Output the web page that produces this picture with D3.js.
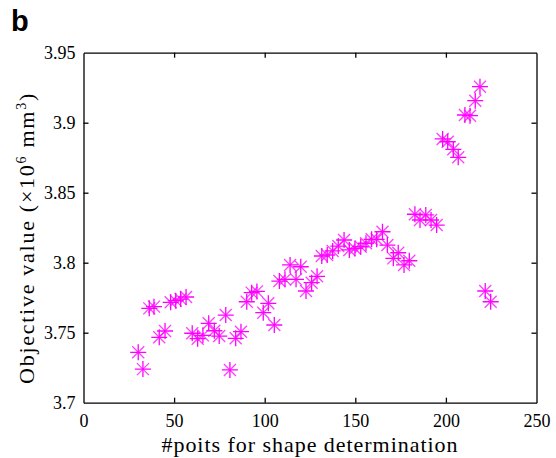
<!DOCTYPE html>
<html>
<head>
<meta charset="utf-8">
<script src="https://cdn.jsdelivr.net/npm/d3@7.9.0/dist/d3.min.js"></script>
<style>
  body { margin: 0; background: #fff; }
  svg text.serif { font-family: "Liberation Serif", "DejaVu Serif", "Times New Roman", serif; }
</style>
</head>
<body>
<svg id="chart" width="556" height="458"></svg>
<script>
// number of points used for shape determination
const pointCounts = [
  30.2, 32.8, 36.3, 38.9, 41.8, 45.0, 48.1, 50.9, 53.6, 56.6,
  60.0, 63.0, 65.9, 69.1, 72.2, 74.9, 78.5, 80.8, 84.0, 86.9,
  90.1, 92.8, 95.7, 99.2, 102.0, 105.3, 108.1, 111.2, 114.0, 117.3,
  119.9, 122.8, 125.9, 128.9, 131.5, 134.5, 137.5, 140.6, 143.8, 146.7,
  149.8, 153.0, 155.9, 159.0, 161.8, 165.0, 167.7, 171.0, 173.7, 176.9,
  179.8, 182.9, 185.7, 188.9, 191.8, 194.9, 198.2, 201.0, 204.1, 206.8,
  210.5, 213.3, 216.2, 218.8, 221.7, 224.7
];
// objective value (x10^6 mm^3)
const objectiveValues = [
  3.736, 3.724, 3.7674, 3.7686, 3.7467, 3.7512, 3.7717, 3.7729, 3.774, 3.7755,
  3.7496, 3.7457, 3.7481, 3.7567, 3.7514, 3.7476, 3.7626, 3.7234, 3.746, 3.7507,
  3.7721, 3.7786, 3.7795, 3.7643, 3.771, 3.7555, 3.7869, 3.7881, 3.7984, 3.7881,
  3.7971, 3.7798, 3.7857, 3.7903, 3.8048, 3.8055, 3.8084, 3.8119, 3.8162, 3.8091,
  3.8102, 3.8114, 3.8139, 3.8167, 3.8167, 3.8221, 3.8126, 3.8031, 3.8071, 3.7984,
  3.8014, 3.8346, 3.8305, 3.8341, 3.8305, 3.8269, 3.8884, 3.8864, 3.881, 3.8753,
  3.9055, 3.905, 3.9157, 3.9257, 3.7798, 3.7721
];
const xTicks = [0, 50, 100, 150, 200, 250];
const yTicks = [3.7, 3.75, 3.8, 3.85, 3.9, 3.95];

const svg = d3.select("#chart");
const plotLeft = 83.5, plotRight = 536.5, plotTop = 52.7, plotBottom = 402.7;

const x = d3.scaleLinear().domain([0, 250]).range([plotLeft, plotRight]);
const y = d3.scaleLinear().domain([3.7, 3.95]).range([plotBottom, plotTop]);

// panel letter
svg.append("text")
  .attr("x", 11)
  .attr("y", 31)
  .attr("font-family", "Liberation Sans, Arial, sans-serif")
  .attr("font-weight", "bold")
  .attr("font-size", 29)
  .text("b");

// axes (ticks inward, mirrored on top/right like matlab box)
const tickLen = 5;
svg.append("g")
  .attr("transform", `translate(0,${plotBottom})`)
  .call(d3.axisBottom(x).tickValues(xTicks).tickSizeInner(-tickLen).tickSizeOuter(0).tickPadding(12).tickFormat(d3.format("d")));
svg.append("g")
  .attr("transform", `translate(0,${plotTop})`)
  .call(d3.axisTop(x).tickValues(xTicks).tickSizeInner(-tickLen).tickSizeOuter(0).tickFormat(""));
svg.append("g")
  .attr("transform", `translate(${plotLeft},0)`)
  .call(d3.axisLeft(y).tickValues(yTicks).tickSizeInner(-tickLen).tickSizeOuter(0).tickPadding(8).tickFormat((d) => String(+d.toFixed(2))));
svg.append("g")
  .attr("transform", `translate(${plotRight},0)`)
  .call(d3.axisRight(y).tickValues(yTicks).tickSizeInner(-tickLen).tickSizeOuter(0).tickFormat(""));

svg.selectAll(".domain").attr("stroke", "#000").attr("stroke-width", 1.3);
svg.selectAll(".tick line").attr("stroke", "#000").attr("stroke-width", 1.3);
svg.selectAll(".tick text")
  .attr("class", "serif")
  .attr("font-size", 18)
  .attr("fill", "#000");

// hide ticks that would sit on the frame corners
svg.selectAll(".tick").filter((d) => d === 0 || d === 250 || d === 3.7 || d === 3.95)
  .select("line").attr("stroke", "none");

// asterisk markers: a plus and a lighter cross
const markers = svg.append("g")
  .attr("stroke", "#ff00ff")
  .attr("stroke-width", 1.3)
  .attr("fill", "none");

pointCounts.forEach((n, i) => {
  const cx = x(n), cy = y(objectiveValues[i]);
  const a = 8, b = 6;
  markers.append("path")
    .attr("d", `M${cx - a},${cy}H${cx + a}M${cx},${cy - a}V${cy + a}`);
  markers.append("path")
    .attr("stroke-opacity", 0.75)
    .attr("d", `M${cx - b},${cy - b}L${cx + b},${cy + b}M${cx - b},${cy + b}L${cx + b},${cy - b}`);
});

// stretch a label to the width it has in the original (wider TeX font)
function fitWidth(sel, target) {
  const node = sel.node();
  const w = node.getComputedTextLength();
  const n = node.textContent.length;
  sel.attr("letter-spacing", ((target - w) / n).toFixed(2));
}

// axis labels
const xl = svg.append("text")
  .attr("class", "serif")
  .attr("x", (plotLeft + plotRight) / 2)
  .attr("y", 452)
  .attr("text-anchor", "middle")
  .attr("font-size", 22)
  .text("#poits for shape determination");
fitWidth(xl, 297);

const yl = svg.append("text")
  .attr("class", "serif")
  .attr("transform", `translate(34,238) rotate(-90)`)
  .attr("text-anchor", "middle")
  .attr("font-size", 22);
yl.append("tspan").text("Objective value (×10");
yl.append("tspan").attr("dy", -8).attr("font-size", 14).text("6");
yl.append("tspan").attr("dy", 8).text(" mm");
yl.append("tspan").attr("dy", -8).attr("font-size", 14).text("3");
yl.append("tspan").attr("dy", 8).text(")");
fitWidth(yl, 292);
</script>
</body>
</html>
